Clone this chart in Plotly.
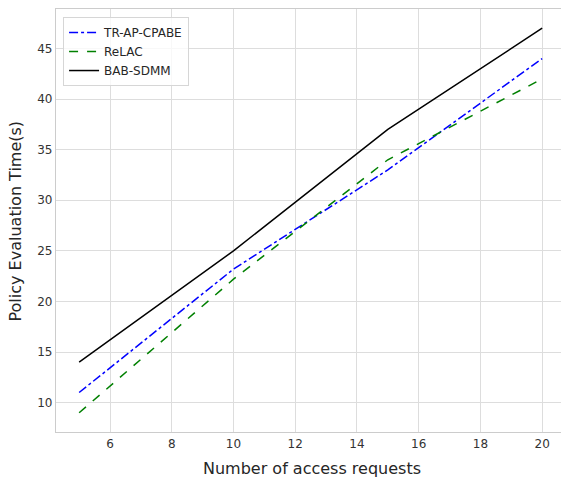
import plotly.graph_objects as go

requests = [5, 10, 15, 20]
tr_ap_cpabe = [11, 23.2, 33, 44]
relac = [9, 22.2, 34, 42]
bab_sdmm = [14, 25, 37, 47]

fig = go.Figure()
fig.add_trace(go.Scatter(x=requests, y=tr_ap_cpabe, mode="lines", name="TR-AP-CPABE",
                         line=dict(color="#0000ff", width=1.5, dash="dashdot")))
fig.add_trace(go.Scatter(x=requests, y=relac, mode="lines", name="ReLAC",
                         line=dict(color="#008000", width=1.5, dash="dash")))
fig.add_trace(go.Scatter(x=requests, y=bab_sdmm, mode="lines", name="BAB-SDMM",
                         line=dict(color="#000000", width=1.5)))

font = "DejaVu Sans"
fig.update_layout(
    width=562, height=483,
    margin=dict(l=56, r=1, t=9, b=51, autoexpand=False),
    plot_bgcolor="white", paper_bgcolor="white",
    font=dict(family=font, color="#333333", size=12),
    legend=dict(x=0.014, y=0.981, xanchor="left", yanchor="top",
                bgcolor="rgba(255,255,255,0.8)", bordercolor="#d6d6d6", borderwidth=1,
                font=dict(size=12, family=font, color="#262626"), tracegroupgap=0),
    xaxis=dict(range=[4.25, 20.61], tickvals=[6, 8, 10, 12, 14, 16, 18, 20],
               showgrid=True, gridcolor="#dddddd", gridwidth=1,
               showline=True, linecolor="#cccccc", linewidth=1.2, mirror=True,
               zeroline=False, ticks="", ticklen=0, automargin=False),
    yaxis=dict(range=[7.1, 48.9], tickvals=[10, 15, 20, 25, 30, 35, 40, 45],
               showgrid=True, gridcolor="#dddddd", gridwidth=1,
               showline=True, linecolor="#cccccc", linewidth=1.2, mirror=False,
               zeroline=False, ticks="", ticklen=0, automargin=False),
    annotations=[
        dict(text="Number of access requests", xref="paper", yref="paper", x=0.5, y=0,
             xanchor="center", yanchor="middle", yshift=-36, xshift=3, showarrow=False,
             font=dict(size=16, family=font, color="#262626")),
        dict(text="Policy Evaluation Time(s)", xref="paper", yref="paper", x=0, y=0.5,
             xanchor="center", yanchor="middle", xshift=-41, yshift=-1, textangle=-90,
             showarrow=False, font=dict(size=16, family=font, color="#262626")),
    ],
)
fig.write_html("out.html", config={"displayModeBar": False},
               post_script="document.body.style.margin='0';document.body.style.overflow='hidden';")
